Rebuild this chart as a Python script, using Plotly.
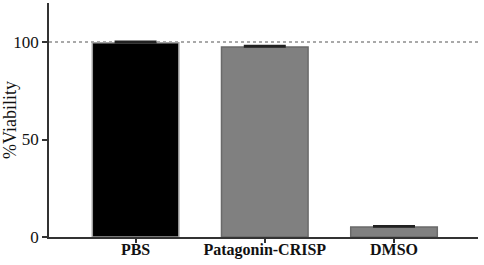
import plotly.graph_objects as go

categories = ["PBS", "Patagonin-CRISP", "DMSO"]
values = [99.6, 97.4, 5.1]
errors = [0.8, 0.8, 0.7]
bar_colors = ["#000000", "#808080", "#808080"]
line_colors = ["#a0a0a0", "#6a6a6a", "#6a6a6a"]
y_ticks = [0, 50, 100]

fig = go.Figure()
fig.add_trace(go.Bar(
    x=categories, y=values, width=0.67,
    marker=dict(color=bar_colors, line=dict(color=line_colors, width=1.5)),
    error_y=dict(type="data", array=errors, arrayminus=[0, 0, 0], symmetric=False,
                 color="#222222", thickness=1.5, width=21),
))
fig.add_shape(type="line", xref="paper", yref="y", x0=0, x1=1, y0=100, y1=100,
              line=dict(color="#555555", width=1.2, dash="dot"), layer="below")

font_family = "Liberation Serif, DejaVu Serif, serif"
fig.update_layout(
    width=484, height=265,
    margin=dict(l=49, r=6, t=3, b=28),
    plot_bgcolor="white", paper_bgcolor="white",
    showlegend=False,
    font=dict(family=font_family, color="#111111"),
)
fig.update_xaxes(
    range=[-0.67, 2.65], showline=True, linecolor="#333333", linewidth=1.5,
    ticks="outside", ticklen=4, tickcolor="#333333", tickwidth=1.5,
    tickfont=dict(size=16, family=font_family, color="#111111"),
    showgrid=False, zeroline=False, automargin=False, ticklabelstandoff=-7,
    tickvals=categories, ticktext=["<b>%s</b>" % c for c in categories],
)
fig.update_yaxes(
    range=[0, 120], tickvals=y_ticks, showline=True, linecolor="#333333", linewidth=1.5,
    ticks="outside", ticklen=5, tickcolor="#333333", tickwidth=1.5,
    tickfont=dict(size=17, family=font_family, color="#111111"),
    title=dict(text="%Viability", font=dict(size=18, family=font_family, color="#111111"), standoff=4),
    showgrid=False, zeroline=False, automargin=False,
)
fig.write_html("out.html", config={"displayModeBar": False},
               post_script="document.body.style.margin='0';document.body.style.overflow='hidden';")
